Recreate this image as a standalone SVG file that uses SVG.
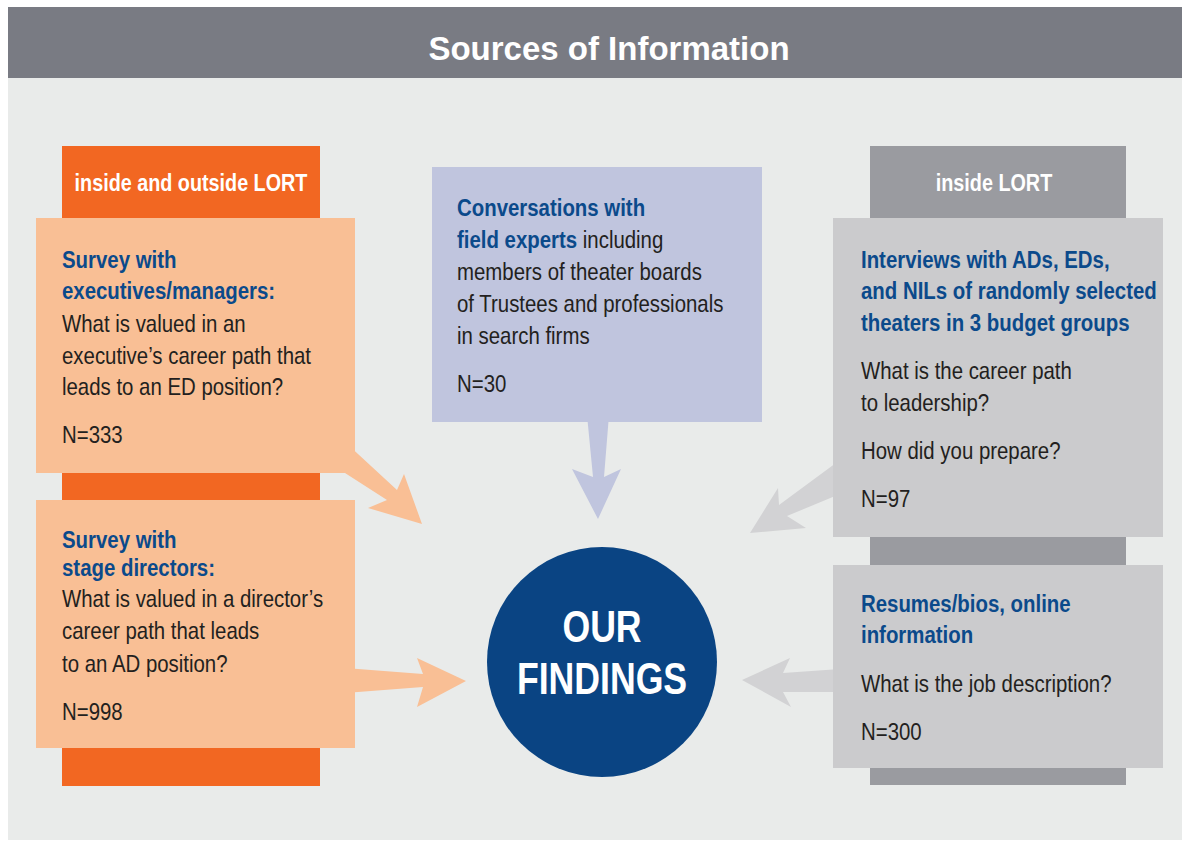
<svg xmlns="http://www.w3.org/2000/svg" width="1182" height="842" viewBox="0 0 1182 842">
<style>
.t{font-family:"Liberation Sans",Arial,sans-serif;font-size:24px;fill:#231F20}
.b{font-weight:bold;fill:#0B4A8B}
.h{font-family:"Liberation Sans",Arial,sans-serif;font-size:23px;font-weight:bold;fill:#FFFFFF;text-anchor:middle}
.title{font-family:"Liberation Sans",Arial,sans-serif;font-size:33px;font-weight:bold;fill:#FFFFFF;text-anchor:middle}
.c{font-family:"Liberation Sans",Arial,sans-serif;font-size:44px;font-weight:bold;fill:#FFFFFF;text-anchor:middle}
.or{fill:#F9BF95}
.gr{fill:#CBCBCD}
.ga{fill:#D2D2D4}
</style>
<rect x="0" y="0" width="1182" height="842" fill="#FFFFFF"/>
<rect x="8" y="78" width="1174" height="762" fill="#E9EBEA"/>
<g id="title">
<rect x="8" y="7" width="1174" height="71" fill="#797B83"/>
<text class="title" x="609" y="60">Sources of Information</text>
</g>
<g id="col-left">
<rect x="62" y="146" width="258" height="640" fill="#F26722"/>
<text class="h" transform="translate(191,0) scale(0.86,1)" x="0" y="191">inside and outside LORT</text>
</g>
<g id="col-right">
<rect x="870" y="146" width="256" height="639" fill="#9A9BA0"/>
<text class="h" transform="translate(994,0) scale(0.86,1)" x="0" y="191">inside LORT</text>
</g>
<g id="connectors">
<polygon class="or" points="345,442 397,490 404,474 422,524 368,508 387,500 345,473"/>
<polygon class="or" points="345,668 423,674 417,658 466,681 417,707 423,687 345,693"/>
<polygon fill="#C0C5DE" points="587,415 593,477 572,469 598,519 621,469 604,477 609,415"/>
<polygon class="ga" points="840,460 779,505 778,488 750,533 806,528 787,516 840,494"/>
<polygon class="ga" points="840,669 783,673 790,658 742,680 791,707 783,692 840,692"/>
</g>
<g id="survey-exec">
<rect class="or" x="36" y="218" width="319" height="255"/>
<text class="t" transform="translate(62,0) scale(0.85,1)"><tspan class="b" x="0" y="268">Survey with</tspan><tspan class="b" x="0" y="299">executives/managers:</tspan><tspan x="0" y="332">What is valued in an</tspan><tspan x="0" y="364">executive’s career path that</tspan><tspan x="0" y="395">leads to an ED position?</tspan><tspan x="0" y="443">N=333</tspan></text>
</g>
<g id="survey-dir">
<rect class="or" x="36" y="500" width="319" height="248"/>
<text class="t" transform="translate(62,0) scale(0.85,1)"><tspan class="b" x="0" y="548">Survey with</tspan><tspan class="b" x="0" y="576">stage directors:</tspan><tspan x="0" y="607">What is valued in a director’s</tspan><tspan x="0" y="639">career path that leads</tspan><tspan x="0" y="672">to an AD position?</tspan><tspan x="0" y="720">N=998</tspan></text>
</g>
<g id="experts">
<rect x="432" y="167" width="330" height="255" fill="#C0C5DE"/>
<text class="t" transform="translate(457,0) scale(0.85,1)"><tspan class="b" x="0" y="216">Conversations with</tspan><tspan x="0" y="248"><tspan class="b">field experts</tspan> including</tspan><tspan x="0" y="280">members of theater boards</tspan><tspan x="0" y="312">of Trustees and professionals</tspan><tspan x="0" y="344">in search firms</tspan><tspan x="0" y="392">N=30</tspan></text>
</g>
<g id="interviews">
<rect class="gr" x="833" y="218" width="330" height="319"/>
<text class="t" transform="translate(861,0) scale(0.85,1)"><tspan class="b" x="0" y="268">Interviews with ADs, EDs,</tspan><tspan class="b" x="0" y="299">and NILs of randomly selected</tspan><tspan class="b" x="0" y="331">theaters in 3 budget groups</tspan><tspan x="0" y="379">What is the career path</tspan><tspan x="0" y="411">to leadership?</tspan><tspan x="0" y="459">How did you prepare?</tspan><tspan x="0" y="507">N=97</tspan></text>
</g>
<g id="resumes">
<rect class="gr" x="833" y="565" width="330" height="203"/>
<text class="t" transform="translate(861,0) scale(0.85,1)"><tspan class="b" x="0" y="612">Resumes/bios, online</tspan><tspan class="b" x="0" y="643">information</tspan><tspan x="0" y="692">What is the job description?</tspan><tspan x="0" y="740">N=300</tspan></text>
</g>
<g id="findings">
<circle cx="602" cy="662" r="115" fill="#0A4483"/>
<text class="c" transform="translate(602,0) scale(0.81,1)" x="0" y="642">OUR</text>
<text class="c" transform="translate(602,0) scale(0.81,1)" x="0" y="694">FINDINGS</text>
</g>
</svg>
